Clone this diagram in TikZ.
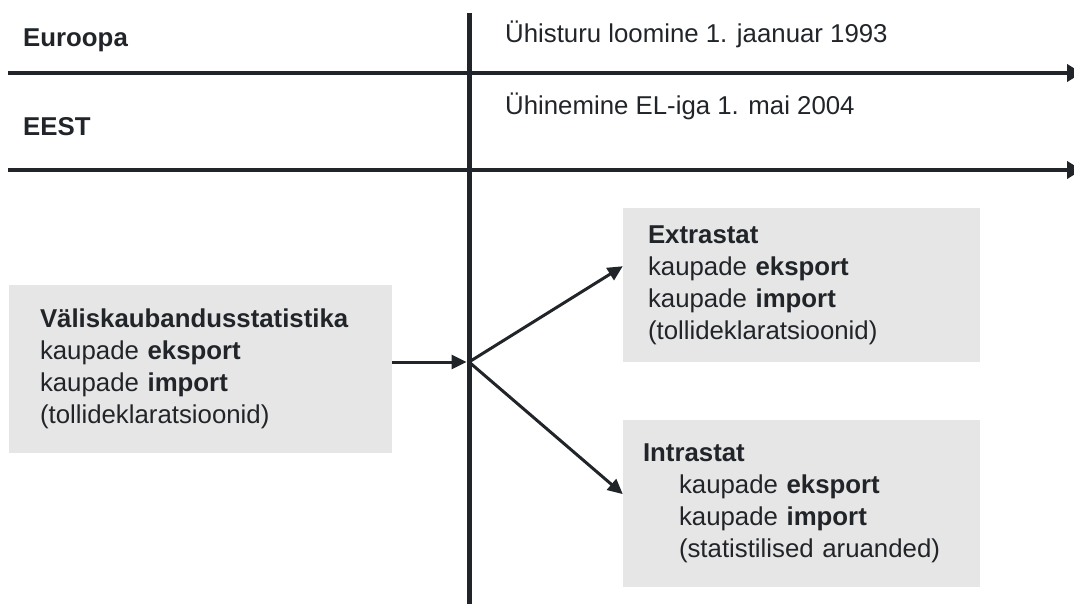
\documentclass[tikz,border=0pt]{standalone}
\usepackage{fontspec}
\setmainfont{Liberation Sans}
\usepackage{xcolor}
\usetikzlibrary{positioning, arrows.meta}
\definecolor{inkdark}{HTML}{212529}
\definecolor{boxgray}{HTML}{E6E6E6}

\begin{document}
\begin{tikzpicture}[x=1pt, y=-1pt, every node/.style={align=left, font=\fontsize{25.8}{32}\selectfont, text=inkdark},
    panel/.style={rectangle, fill=boxgray, inner ysep=0pt},
    >={Triangle[length=15pt, width=14pt]}]
    \useasboundingbox (0,0) rectangle (1074,604);
    \coordinate (euline west) at (8,73);
    \coordinate (euline east) at (1082,73);
    \coordinate (eeline west) at (8,170);
    \coordinate (eeline east) at (1082,170);
    \coordinate (axis top) at (469,13);
    \coordinate (axis bottom) at (469,604);
    \coordinate (hub) at (469,362);
    \draw[line width=4pt, inkdark, -{Triangle[length=15pt, width=17pt]}] (euline west) -- (euline east);
    \draw[line width=4pt, inkdark, -{Triangle[length=15pt, width=17pt]}] (eeline west) -- (eeline east);
    \draw[line width=5pt, inkdark] (axis top) -- (axis bottom);
    \node[anchor=base west, inner sep=0pt, font=\fontsize{25.8}{32}\selectfont\bfseries] (europe) at (23,47) {Euroopa};
    \node[anchor=base west, inner sep=0pt, font=\fontsize{25.8}{32}\selectfont\bfseries] (estonia) at (23,136) {EEST};
    \node[anchor=base west, inner sep=0pt] (market) at (505,43) {Ühisturu loomine 1. jaanuar 1993};
    \node[anchor=base west, inner sep=0pt] (accession) at (505,115) {Ühinemine EL-iga 1. mai 2004};
    \node[panel, text width=321pt, inner xsep=31pt, minimum height=168pt] (trade) at (200.5,369)
        {\textbf{Väliskaubandusstatistika}\\kaupade \textbf{eksport}\\kaupade \textbf{import}\\(tollideklaratsioonid)};
    \node[panel, text width=307pt, inner xsep=25pt, minimum height=154pt] (extra) at (801.5,285)
        {\textbf{Extrastat}\\kaupade \textbf{eksport}\\kaupade \textbf{import}\\(tollideklaratsioonid)};
    \node[panel, text width=317pt, inner xsep=20pt, minimum height=167pt] (intra) at (801.5,503.5)
        {\textbf{Intrastat}\\\hspace*{36pt}kaupade \textbf{eksport}\\\hspace*{36pt}kaupade \textbf{import}\\\hspace*{36pt}(statistilised aruanded)};
    \draw[->, line width=3pt, inkdark, shorten >=2.5pt] (trade.east |- hub) -- (hub);
    \draw[->, line width=3pt, inkdark] (hub) -- (extra.174);
    \draw[->, line width=3pt, inkdark] (hub) -- (intra.177);
  \end{tikzpicture}
\end{document}
